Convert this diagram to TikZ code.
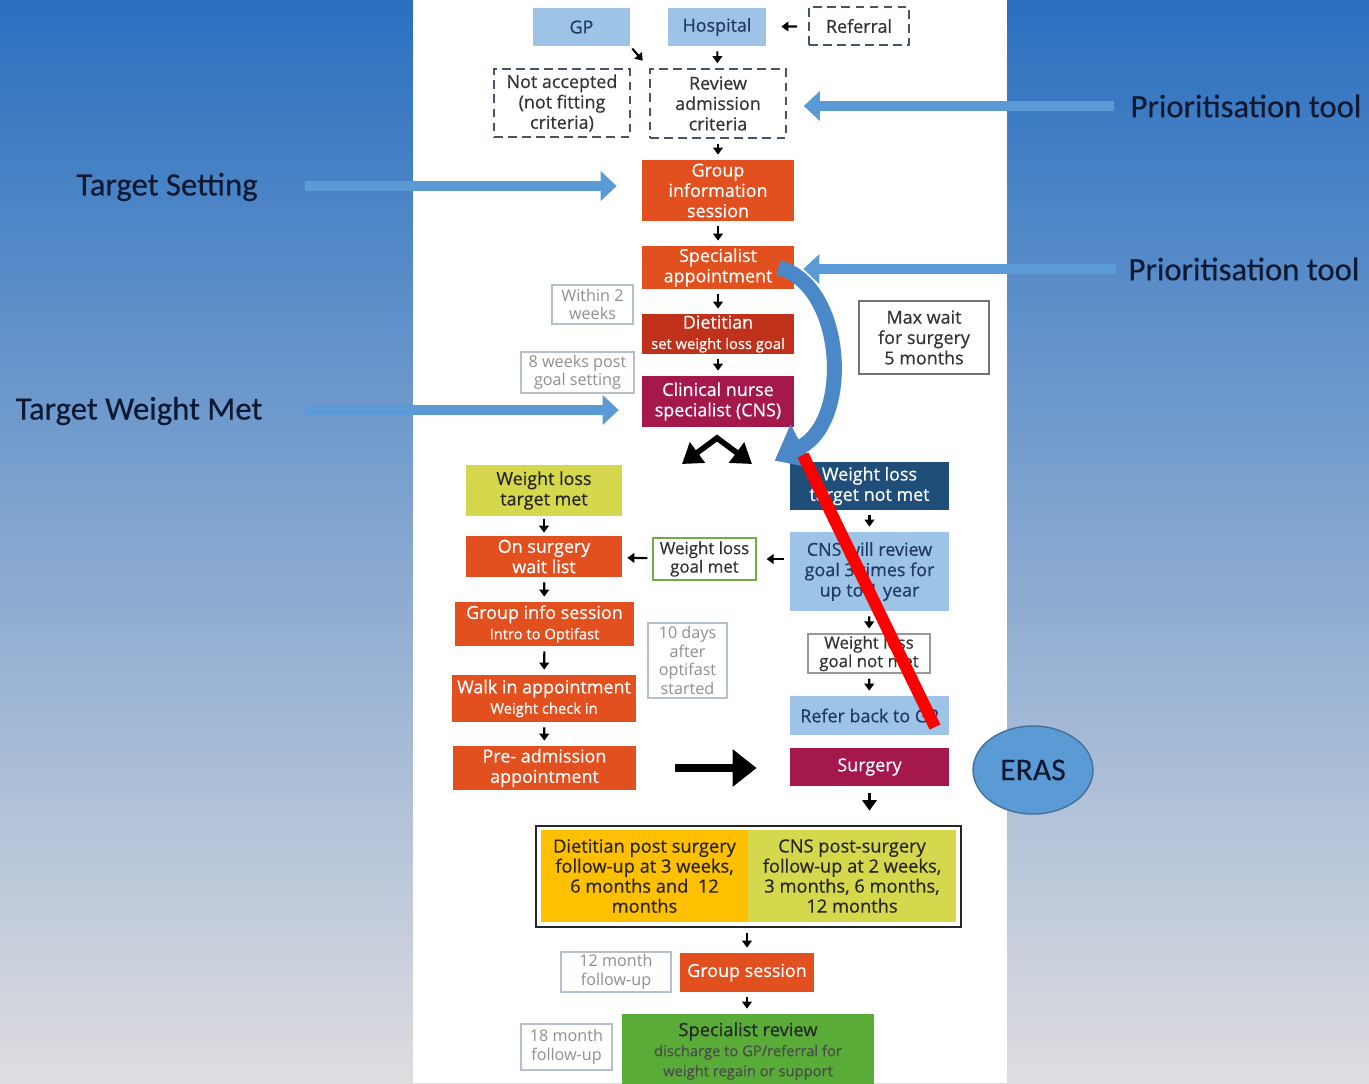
\documentclass[tikz,border=0pt]{standalone}
\usepackage{fontspec}
\setmainfont{Open Sans}[FakeBold=0.5]
\newfontfamily\notefont{Open Sans}
\newfontfamily\lblfont{Carlito}[FakeBold=0.4]
\usetikzlibrary{arrows.meta,shapes.geometric}
\definecolor{bgtop}{HTML}{2A70C0}
\definecolor{bgmid}{HTML}{A9B6D5}
\definecolor{bgbot}{HTML}{DFDDE0}
\definecolor{lblue}{HTML}{9DC3E6}
\definecolor{dtext}{HTML}{1F3864}
\definecolor{dashc}{HTML}{44546A}
\definecolor{orng}{HTML}{E2501F}
\definecolor{dietc}{HTML}{C0311B}
\definecolor{crim}{HTML}{A5184B}
\definecolor{ygc}{HTML}{D5D84D}
\definecolor{dblue}{HTML}{1F4E79}
\definecolor{yellc}{HTML}{FFC000}
\definecolor{grc}{HTML}{5AAC38}
\definecolor{blarr}{HTML}{5B9BD5}
\definecolor{blarrd}{HTML}{4A88C8}
\definecolor{erasb}{HTML}{41719C}
\definecolor{notec}{HTML}{8F8F8F}
\definecolor{notebd}{HTML}{B4C0D0}
\definecolor{lbltext}{HTML}{0E1A33}
\definecolor{gmetbd}{HTML}{70AD47}
\newcommand\subt{\fontsize{8.4}{9}\selectfont}
\newcommand\bxn[7]{\node[#1, minimum width={(#5-#3)*0.02cm}, minimum height={(#6-#4)*0.02cm}] (#2) at ({(#3+#5)/2},{(#4+#6)/2}) {#7};}
\tikzset{
  bx/.style={inner sep=0pt, align=center, font=\fontsize{10.2}{11.6}\selectfont},
  lbtn/.style={bx, fill=lblue, text=dtext},
  dbox/.style={bx, draw=dashc, line width=0.9pt, dash pattern=on 5pt off 3pt, text=black!80},
  obox/.style={bx, fill=orng, text=white},
  diet/.style={bx, fill=dietc, text=white},
  cbox/.style={bx, fill=crim, text=white},
  ygbox/.style={bx, fill=ygc, text=black!85},
  dbbox/.style={bx, fill=dblue, text=white},
  note/.style={bx, draw=notebd, line width=0.6pt, fill=white, text=notec, font=\notefont\fontsize{9.2}{10.5}\selectfont},
  mbox/.style={bx, draw=black!55, line width=0.7pt, fill=white, text=black!80},
  gmetbox/.style={bx, draw=gmetbd, line width=0.6pt, fill=white, text=black!80, font=\fontsize{9.6}{10.5}\selectfont},
  gnotbox/.style={bx, draw=black!40, line width=0.6pt, fill=white, text=black!80, font=\fontsize{9.6}{10.5}\selectfont},
  fubox/.style={bx, text=black!85, font=\fontsize{10.4}{11.4}\selectfont},
  sarr/.style={line width=1.2pt, -{Triangle[length=4pt,width=5.5pt]}, shorten <=0.1cm, shorten >=0.1cm},
  sidearr/.style={line width=0.2cm, blarr, -{Triangle[length=0.32cm,width=0.58cm]}},
  sidelbl/.style={font=\lblfont\fontsize{18.6}{21}\selectfont, text=lbltext, inner sep=0pt},
}
\begin{document}
\begin{tikzpicture}[x=0.02cm,y=-0.02cm]
\useasboundingbox (0,0) rectangle (1369,1083);
\clip (0,0) rectangle (1369,1083);
\shade[top color=bgtop, middle color=bgmid, bottom color=bgbot] (0,0) rectangle (1369,1083);
\fill[white] (413,0) rectangle (1007,1083);

% side labels
\node[sidelbl] (ts) at (167,187) {Target Setting};
\node[sidelbl] (twm) at (139,411) {Target Weight Met};
\node[sidelbl] (pt1) at (1246,106) {Prioritisation tool};
\node[sidelbl] (pt2) at (1244,269) {Prioritisation tool};

% boxes
\bxn{lbtn}{gp}{533}{8}{630}{46}{GP}
\bxn{lbtn}{hosp}{668}{8}{766}{46}{Hospital}
\bxn{dbox}{ref}{809}{7}{909}{45}{Referral}
\bxn{dbox}{notacc}{494}{69}{630}{137}{Not accepted\\(not fitting\\criteria)}
\bxn{dbox}{review}{650}{69}{786}{138}{Review\\admission\\criteria}
\bxn{obox}{gis}{642}{160}{794}{221}{Group\\information\\session}
\bxn{obox}{spec}{642}{246}{794}{289}{Specialist\\appointment}
\bxn{note}{w2}{552}{285}{633}{324}{Within 2\\weeks}
\bxn{diet}{diet}{642}{314}{794}{354}{Dietitian\\{\subt set weight loss goal}}
\bxn{note}{w8}{521}{352}{634}{393}{8 weeks post\\goal setting}
\bxn{cbox}{cns}{642}{376}{794}{427}{Clinical nurse\\specialist (CNS)}
\bxn{mbox}{maxw}{859}{301}{989}{374}{Max wait\\for surgery\\5 months}
\bxn{ygbox}{met}{466}{465}{622}{516}{Weight loss\\target met}
\bxn{dbbox}{notmet}{790}{462}{949}{510}{Weight loss\\target not met}
\bxn{obox}{wait}{466}{536}{622}{577}{On surgery\\wait list}
\bxn{gmetbox}{gmet}{653}{538}{756}{580}{Weight loss\\goal met}
\bxn{lbtn}{cnsrev}{790}{532}{949}{611}{CNS will review\\goal 3 times for\\up to 1 year}
\bxn{obox}{gis2}{455}{602}{634}{646}{Group info session\\{\subt Intro to Optifast}}
\bxn{note}{d10}{648}{623}{727}{698}{10 days\\after\\optifast\\started}
\bxn{gnotbox}{gnot}{808}{634}{930}{673}{Weight loss\\goal not met}
\bxn{obox}{walk}{452}{675}{636}{722}{Walk in appointment\\{\subt Weight check in}}
\bxn{lbtn}{refer}{790}{696}{949}{735}{Refer back to GP}
\bxn{obox}{pread}{453}{746}{636}{790}{Pre- admission\\appointment}
\bxn{cbox}{surg}{790}{748}{949}{786}{Surgery}
\node[ellipse, draw=erasb, line width=0.8pt, fill=blarr, minimum width=2.4cm, minimum height=1.76cm, inner sep=0pt, text=lbltext, font=\lblfont\fontsize{18}{20}\selectfont] (eras) at (1033,770) {ERAS};
\bxn{draw=black!85, line width=1.5pt, fill=white, inner sep=0pt}{fu}{536}{826}{961}{927}{}
\bxn{fubox, fill=yellc}{fud}{541}{830}{748}{922}{Dietitian post surgery\\follow-up at 3 weeks,\\6 months and\ \ 12\\months}
\bxn{fubox, fill=ygc}{fuc}{748}{830}{956}{922}{CNS post-surgery\\follow-up at 2 weeks,\\3 months, 6 months,\\12 months}
\bxn{note}{m12}{561}{952}{671}{992}{12 month\\follow-up}
\bxn{obox}{gs}{680}{953}{814}{992}{Group session}
\bxn{note}{m18}{521}{1024}{612}{1070}{18 month\\follow-up}
\bxn{fubox, fill=grc}{sr}{622}{1014}{874}{1088}{Specialist review\\{\subt\color{black!70} discharge to GP/referral for}\\{\subt\color{black!70} weight regain or support}}

% small connectors
\draw[sarr, shorten <=0.22cm, shorten >=0.3cm] (ref) -- (hosp);
\draw[sarr, shorten <=0.06cm, shorten >=0.2cm] (gp.south east) -- (review.north west);
\draw[sarr] (hosp) -- (review);
\draw[sarr] (review) -- (gis);
\draw[sarr] (gis) -- (spec);
\draw[sarr] (spec) -- (diet);
\draw[sarr] (diet) -- (cns);
\draw[sarr, shorten <=0.06cm, shorten >=0.06cm] (met) -- (wait);
\draw[sarr] (notmet) -- (cnsrev);
\draw[sarr, shorten <=0.12cm, shorten >=0.2cm] (cnsrev.west |- gmet) -- (gmet.east);
\draw[sarr] (gmet) -- (wait);
\draw[sarr] (wait) -- (gis2);
\draw[sarr] (cnsrev) -- (gnot);
\draw[sarr] (gis2) -- (walk);
\draw[sarr] (gnot) -- (refer);
\draw[sarr] (walk) -- (pread);
\draw[line width=1.8pt, -{Triangle[length=6pt,width=8pt]}, shorten <=0.14cm, shorten >=0.28cm] (surg.south) -- (surg.south |- fu.north);
\draw[sarr] (fu.south -| gs) -- (gs);
\draw[sarr] (gs) -- (sr.north -| gs);

% big black arrows
\coordinate (apex) at (717,438);
\coordinate (bl) at (682,464);
\coordinate (br) at (752,464);
\draw[line width=3.2pt, line join=miter, {Triangle[length=11pt,width=14pt]}-{Triangle[length=11pt,width=14pt]}] (bl) -- (apex) -- (br);
\draw[line width=0.15cm, -{Triangle[length=0.48cm,width=0.72cm]}, shorten <=0.78cm, shorten >=0.66cm] (pread) -- (pread -| surg.west);

% side block arrows
\coordinate (tsA) at (305,186);
\coordinate (twmA) at (305,410);
\coordinate (pt1A) at (1114,106);
\coordinate (pt2A) at (1116,269);
\draw[sidearr, shorten >=0.5cm] (tsA) -- (tsA -| gis.west);
\draw[sidearr, shorten >=0.46cm] (twmA) -- (twmA -| cns.west);
\draw[sidearr, shorten >=0.34cm] (pt1A) -- (pt1A -| review.east);
\draw[sidearr, shorten >=0.18cm] (pt2A) -- (pt2A -| spec.east);

% curved blue arrow
\draw[line width=0.3cm, blarrd, -{Triangle[length=0.62cm,width=0.95cm]}] ([xshift=-0.32cm]spec.east) .. controls (845,285) and (852,420) .. ([xshift=-0.3cm,yshift=0.02cm]notmet.north west);

% red strike line
\coordinate (r1) at (803,455);
\coordinate (r2) at (935,727);
\draw[red, line width=0.24cm] (r1) -- (r2);
\end{tikzpicture}
\end{document}
